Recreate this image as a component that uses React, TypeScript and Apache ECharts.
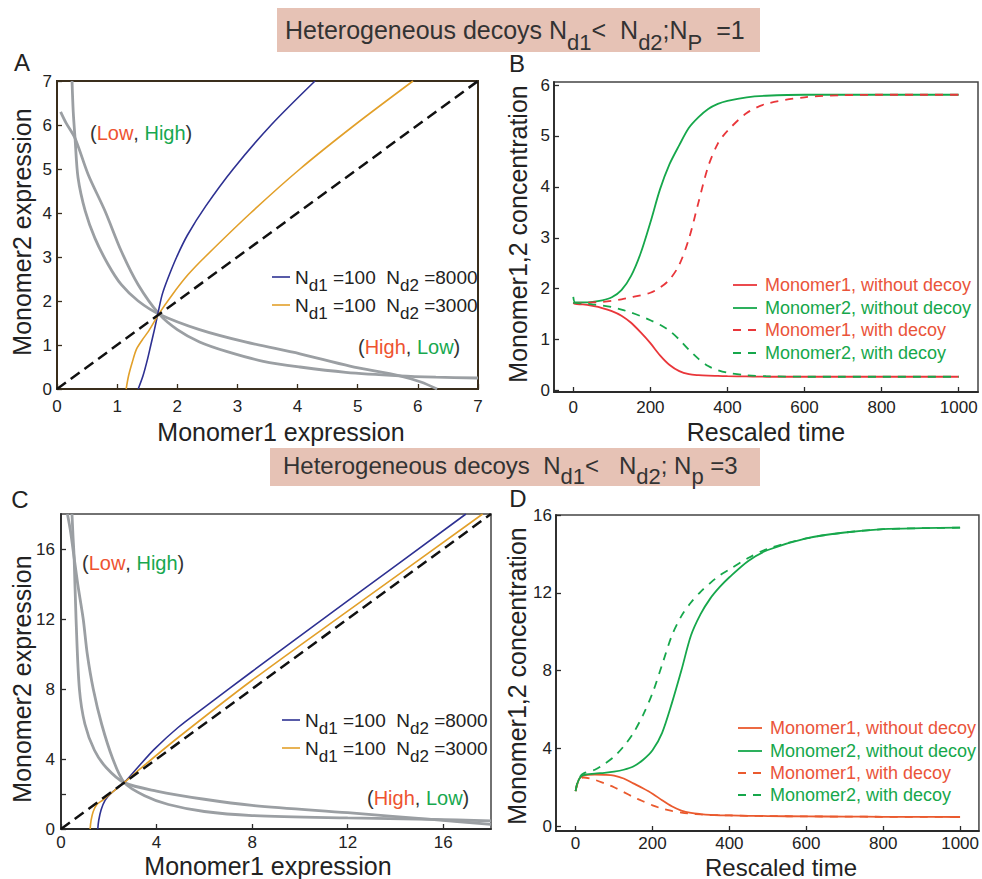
import React, { useEffect, useRef } from "react";
import * as echarts from "echarts";

const FONT = '"Liberation Sans", Arial, Helvetica, sans-serif';

// ---------- Panel A (N_P = 1) nullclines ----------
const aDiagonal = [[0, 0], [7, 7]];
const aBlue = [[1.35, 0], [1.43, 0.3], [1.5, 0.65], [1.56, 1.0], [1.62, 1.35], [1.68, 1.73], [1.75, 2.15], [1.84, 2.5], [1.99, 3.0], [2.17, 3.5], [2.47, 4.15], [2.93, 5.0], [3.56, 6.0], [4.29, 7.0]];
const aOrange = [[1.15, 0], [1.19, 0.3], [1.25, 0.6], [1.32, 0.9], [1.42, 1.12], [1.52, 1.31], [1.7, 1.72], [1.92, 2.15], [2.18, 2.6], [2.46, 3.0], [3.22, 4.0], [4.04, 5.0], [4.95, 6.0], [5.92, 7.0]];
const aNull1 = [[0.25, 7.0], [0.27, 6.3], [0.3, 5.7], [0.35, 4.8], [0.47, 4.04], [0.63, 3.43], [0.85, 2.83], [1.07, 2.37], [1.35, 2.0], [1.7, 1.7], [2.37, 1.35], [3.13, 1.07], [4.04, 0.8], [4.87, 0.52], [5.7, 0.3], [6.05, 0.16], [6.32, 0.0]];
const aNull2 = [[0.06, 6.3], [0.15, 6.05], [0.3, 5.7], [0.52, 4.87], [0.8, 4.04], [1.07, 3.13], [1.35, 2.37], [1.7, 1.7], [2.0, 1.35], [2.37, 1.07], [2.83, 0.85], [3.43, 0.63], [4.04, 0.5], [4.8, 0.38], [5.7, 0.3], [6.3, 0.27], [7.0, 0.25]];
const aTicks = [0, 1, 2, 3, 4, 5, 6, 7];

// ---------- Panel C (N_P = 3) nullclines ----------
const cDiagonal = [[0, 0], [18, 18]];
const cBlue = [[1.54, 0], [1.58, 0.5], [1.68, 1.1], [1.85, 1.65], [2.1, 2.05], [2.65, 2.66], [3.2, 3.5], [3.9, 4.55], [4.9, 5.8], [6, 6.95], [8, 9.0], [12, 13.03], [16.95, 18]];
const cOrange = [[1.22, 0], [1.26, 0.5], [1.35, 1.0], [1.5, 1.4], [1.75, 1.65], [2.15, 2.1], [2.65, 2.66], [3.35, 3.48], [4.88, 5.2], [8, 8.5], [12, 12.45], [17.65, 18]];
const cNull1 = [[0.46, 18], [0.5, 16.8], [0.55, 15.5], [0.63, 12], [0.77, 8], [1.0, 6], [1.4, 4.5], [1.9, 3.5], [2.65, 2.65], [4.0, 2.17], [6, 1.7], [8, 1.35], [12, 0.93], [15.5, 0.55], [18, 0.27]];
const cNull2 = [[0.27, 18], [0.4, 17], [0.55, 15.5], [0.7, 14], [0.93, 12], [1.1, 10], [1.35, 8], [1.7, 6], [2.17, 4.0], [2.65, 2.65], [3.5, 1.9], [4.5, 1.4], [6, 1.0], [8, 0.77], [12, 0.63], [15.5, 0.55], [18, 0.46]];
const cTickMarksY = [0, 2, 4, 8, 12, 16];
const cTicks = [0, 4, 8, 12, 16];

// ---------- Panel B time courses ----------
const timeB = [0, 5, 25, 50, 75, 100, 125, 150, 175, 200, 225, 250, 275, 300, 325, 350, 375, 400, 450, 500, 600, 700, 800, 900, 1000];
const bM1Without = [1.72, 1.7, 1.69, 1.66, 1.62, 1.56, 1.47, 1.33, 1.14, 0.93, 0.69, 0.5, 0.38, 0.32, 0.3, 0.29, 0.285, 0.28, 0.275, 0.27, 0.27, 0.27, 0.27, 0.27, 0.27];
const bM2Without = [1.84, 1.73, 1.73, 1.74, 1.77, 1.83, 1.97, 2.25, 2.7, 3.3, 3.95, 4.45, 4.82, 5.16, 5.37, 5.53, 5.63, 5.69, 5.76, 5.79, 5.81, 5.81, 5.81, 5.81, 5.81];
const bM1With = [1.72, 1.72, 1.72, 1.73, 1.74, 1.76, 1.79, 1.83, 1.87, 1.92, 2.02, 2.18, 2.47, 2.98, 3.7, 4.4, 4.85, 5.1, 5.45, 5.63, 5.76, 5.8, 5.81, 5.81, 5.81];
const bM2With = [1.72, 1.72, 1.71, 1.69, 1.67, 1.64, 1.59, 1.53, 1.46, 1.38, 1.29, 1.17, 1.0, 0.8, 0.62, 0.48, 0.4, 0.35, 0.3, 0.28, 0.27, 0.27, 0.27, 0.27, 0.27];
const bTicksY = [0, 1, 2, 3, 4, 5, 6];

// ---------- Panel D time courses ----------
const timeD = [0, 4, 10, 20, 50, 75, 100, 125, 150, 175, 200, 225, 250, 275, 300, 325, 350, 375, 400, 450, 500, 600, 700, 800, 900, 1000];
const dM1Without = [1.8, 2.15, 2.45, 2.6, 2.65, 2.64, 2.6, 2.45, 2.2, 1.95, 1.67, 1.33, 1.02, 0.8, 0.68, 0.62, 0.58, 0.56, 0.55, 0.53, 0.52, 0.5, 0.49, 0.48, 0.475, 0.47];
const dM2Without = [1.8, 2.15, 2.45, 2.62, 2.7, 2.74, 2.8, 2.9, 3.07, 3.4, 3.9, 4.8, 6.3, 8.0, 9.8, 10.9, 11.7, 12.3, 12.8, 13.65, 14.2, 14.8, 15.1, 15.27, 15.32, 15.35];
const dM1With = [1.8, 2.15, 2.4, 2.5, 2.38, 2.2, 2.0, 1.75, 1.5, 1.28, 1.07, 0.9, 0.78, 0.7, 0.64, 0.6, 0.57, 0.56, 0.55, 0.53, 0.52, 0.5, 0.49, 0.48, 0.475, 0.47];
const dM2With = [1.8, 2.2, 2.5, 2.7, 2.9, 3.2, 3.57, 4.1, 4.78, 5.7, 6.84, 8.3, 9.78, 10.8, 11.5, 12.05, 12.5, 12.9, 13.2, 13.8, 14.26, 14.8, 15.1, 15.27, 15.32, 15.35];
const dTicksY = [0, 4, 8, 12, 16];
const timeTicks = [0, 200, 400, 600, 800, 1000];

const legendNames = ["Monomer1, without decoy", "Monomer2, without decoy", "Monomer1, with decoy", "Monomer2, with decoy"];

const zip = (t: number[], v: number[]) => t.map((x, i) => [x, v[i]]);

const GRAY = "#9b9fa3";
const BLUE = "#2e3192";
const ORANGE = "#e2a02a";
const GREEN = "#16a74b";
const RED_B = "#e9363a";
const RED_D = "#ea5a2e";
const RED_TXT = "#ea543a";
const AX = "#2a2a2a";

const plainNumber = (v: number) => String(v);

function xAxisDef(grid: number, min: number, max: number, ticks: number[], color: string, margin: number) {
  return {
    gridIndex: grid,
    type: "value",
    min,
    max,
    axisLine: { show: true, onZero: false, lineStyle: { color, width: 1.8 } },
    axisTick: { show: true, inside: true, length: 5, customValues: ticks, lineStyle: { color, width: 1.3 } },
    axisLabel: { show: true, customValues: ticks, margin, formatter: plainNumber, fontFamily: FONT, fontSize: 17, color: "#222" },
    splitLine: { show: false },
  };
}
function yAxisDef(grid: number, min: number, max: number, tickMarks: number[], labels: number[], color: string, margin: number) {
  return {
    gridIndex: grid,
    type: "value",
    min,
    max,
    axisLine: { show: true, onZero: false, lineStyle: { color, width: 1.8 } },
    axisTick: { show: true, inside: true, length: 5, customValues: tickMarks, lineStyle: { color, width: 1.3 } },
    axisLabel: { show: true, customValues: labels, margin, formatter: plainNumber, fontFamily: FONT, fontSize: 17, color: "#222" },
    splitLine: { show: false },
  };
}

function lineSeries(name: string, grid: number, data: number[][], color: string, width: number, dash?: number[], z = 2, smooth: number | boolean = 0.3) {
  return {
    name,
    type: "line",
    xAxisIndex: grid,
    yAxisIndex: grid,
    data,
    symbol: "none",
    showSymbol: false,
    smooth,
    clip: true,
    z,
    lineStyle: { color, width, type: dash ? dash : "solid", cap: "butt" },
    itemStyle: { color },
    emphasis: { disabled: true },
  };
}

const richSub = (main: number, sub: number, H: number, h: number, fill: string) => ({
  m: { fontFamily: FONT, fontSize: main, lineHeight: H, fill, verticalAlign: "middle" },
  s: { fontFamily: FONT, fontSize: sub, lineHeight: h, fill, verticalAlign: "bottom" },
});

function textEl(text: string, x: number, y: number, size: number, opts: any = {}) {
  return {
    type: "text",
    x,
    y,
    rotation: opts.rotation || 0,
    z: 100,
    style: {
      text,
      fontFamily: FONT,
      fontSize: size,
      fill: opts.fill || "#222",
      textAlign: opts.align || "center",
      textVerticalAlign: "middle",
      rich: opts.rich,
    },
  };
}

function lineEl(x1: number, y1: number, x2: number, y2: number, stroke: string, width: number, dash?: number[]) {
  return {
    type: "line",
    z: 100,
    shape: { x1, y1, x2, y2 },
    style: { stroke, lineWidth: width, lineDash: dash || null },
  };
}

const lowHighRich = {
  k: { fontFamily: FONT, fontSize: 20, fill: "#333" },
  r: { fontFamily: FONT, fontSize: 20, fill: "#ee5330" },
  g: { fontFamily: FONT, fontSize: 20, fill: "#17a84f" },
};

function buildGraphic() {
  const els: any[] = [];
  // banners
  els.push({ type: "rect", z: 90, shape: { x: 277, y: 8, width: 483, height: 44 }, style: { fill: "#e6c2b5" } });
  els.push(textEl("{m|Heterogeneous decoys N}{s|d1}{m|<  N}{s|d2}{m|;N}{s|P}{m|  =1}", 285, 30, 25, { align: "left", rich: richSub(25, 22, 46, 22, "#333") }));
  els.push({ type: "rect", z: 90, shape: { x: 270, y: 448, width: 490, height: 38 }, style: { fill: "#e6c2b5" } });
  els.push(textEl("{m|Heterogeneous decoys  N}{s|d1}{m|<   N}{s|d2}{m|; N}{s|p}{m| =3}", 283, 465, 24, { align: "left", rich: richSub(24, 22, 44, 22, "#333") }));

  // panel letters
  els.push(textEl("A", 22, 62, 24));
  els.push(textEl("B", 517, 63, 24));
  els.push(textEl("C", 20, 499, 24));
  els.push(textEl("D", 518, 498, 24));

  // axis titles
  els.push(textEl("Monomer1 expression", 281, 432, 25));
  els.push(textEl("Monomer2 expression", 22, 232, 25, { rotation: Math.PI / 2 }));
  els.push(textEl("Rescaled time", 766, 432, 25));
  els.push(textEl("Monomer1,2 concentration", 518, 234, 25, { rotation: Math.PI / 2 }));
  els.push(textEl("Monomer1 expression", 268, 866, 25));
  els.push(textEl("Monomer2 expression", 22, 679, 25, { rotation: Math.PI / 2 }));
  els.push(textEl("Rescaled time", 781, 867, 24));
  els.push(textEl("Monomer1,2 concentration", 517, 676, 25, { rotation: Math.PI / 2 }));

  // Low/High annotations
  els.push(textEl("{k|(}{r|Low}{k|, }{g|High}{k|)}", 90, 133, 20, { align: "left", rich: lowHighRich }));
  els.push(textEl("{k|(}{r|High}{k|, }{g|Low}{k|)}", 358, 347, 20, { align: "left", rich: lowHighRich }));
  els.push(textEl("{k|(}{r|Low}{k|, }{g|High}{k|)}", 82, 563, 20, { align: "left", rich: lowHighRich }));
  els.push(textEl("{k|(}{r|High}{k|, }{g|Low}{k|)}", 367, 798, 20, { align: "left", rich: lowHighRich }));

  // decoy legends (A, C)
  const nd = (v: string) => `{m|N}{s|d1}{m| =100  N}{s|d2}{m| =${v}}`;
  const ndRich = richSub(19, 17, 33, 17, "#222");
  [[277, BLUE, "8000"], [305, ORANGE, "3000"]].forEach(([y, c, v]: any) => {
    els.push(lineEl(272, y, 290, y, c, 1.6));
    els.push(textEl(nd(v), 295, y, 19, { align: "left", rich: ndRich }));
  });
  [[720, BLUE, "8000"], [748, ORANGE, "3000"]].forEach(([y, c, v]: any) => {
    els.push(lineEl(282, y, 300, y, c, 1.6));
    els.push(textEl(nd(v), 305, y, 19, { align: "left", rich: ndRich }));
  });

  // time-course legends (B, D)
  const legendColors = [RED_TXT, GREEN, RED_TXT, GREEN];
  const bRows = [285, 308, 330, 353];
  const dRows = [728, 751, 773, 795];
  legendNames.forEach((name, i) => {
    const dash = i >= 2 ? [8, 7] : undefined;
    els.push(lineEl(733, bRows[i], 757, bRows[i], i % 2 === 0 ? RED_B : GREEN, 1.8, dash));
    els.push(textEl(name, 765, bRows[i], 18, { align: "left", fill: legendColors[i] }));
    els.push(lineEl(738, dRows[i], 762, dRows[i], i % 2 === 0 ? RED_D : GREEN, 1.8, dash));
    els.push(textEl(name, 770, dRows[i], 18, { align: "left", fill: legendColors[i] }));
  });
  return els;
}

function buildOption() {
  return {
    animation: false,
    backgroundColor: "#ffffff",
    textStyle: { fontFamily: FONT },
    grid: [
      { left: 57, top: 81, width: 421, height: 308, show: true, borderColor: "#3a2e1c", borderWidth: 2, backgroundColor: "transparent" },
      { left: 554, top: 82, width: 424, height: 310, show: true, borderColor: "#444", borderWidth: 1.5, backgroundColor: "transparent" },
      { left: 61, top: 514, width: 430, height: 315, show: true, borderColor: "#444", borderWidth: 1.5, backgroundColor: "transparent" },
      { left: 556, top: 515, width: 428, height: 316, show: true, borderColor: "#444", borderWidth: 1.5, backgroundColor: "transparent" },
    ],
    xAxis: [
      xAxisDef(0, 0, 7, aTicks, "#3a2e1c", 9),
      xAxisDef(1, -50, 1050, timeTicks, AX, 7),
      xAxisDef(2, 0, 18, cTicks, AX, 5),
      xAxisDef(3, -51, 1049, timeTicks, AX, 4),
    ],
    yAxis: [
      yAxisDef(0, 0, 7, aTicks, aTicks, "#3a2e1c", 5),
      yAxisDef(1, -0.03, 6.06, bTicksY, bTicksY, AX, 4),
      yAxisDef(2, 0, 18, cTickMarksY, cTicks, AX, 6),
      yAxisDef(3, -0.25, 16, dTicksY, dTicksY, AX, 4),
    ],
    graphic: buildGraphic(),
    series: [
      // A
      lineSeries("A nullcline 1", 0, aNull1, GRAY, 2.8),
      lineSeries("A nullcline 2", 0, aNull2, GRAY, 2.8),
      lineSeries("A Nd2=8000", 0, aBlue, BLUE, 1.6, undefined, 3),
      lineSeries("A Nd2=3000", 0, aOrange, ORANGE, 1.6, undefined, 3),
      lineSeries("A diagonal", 0, aDiagonal, "#111", 2.5, [11, 6], 4, false),
      // B
      lineSeries(legendNames[0], 1, zip(timeB, bM1Without), RED_B, 1.8),
      lineSeries(legendNames[1], 1, zip(timeB, bM2Without), GREEN, 1.8),
      lineSeries(legendNames[2], 1, zip(timeB, bM1With), RED_B, 1.8, [8, 7]),
      lineSeries(legendNames[3], 1, zip(timeB, bM2With), GREEN, 1.8, [8, 7]),
      // C
      lineSeries("C nullcline 1", 2, cNull1, GRAY, 2.8),
      lineSeries("C nullcline 2", 2, cNull2, GRAY, 2.8),
      lineSeries("C Nd2=8000", 2, cBlue, BLUE, 1.6, undefined, 3),
      lineSeries("C Nd2=3000", 2, cOrange, ORANGE, 1.6, undefined, 3),
      lineSeries("C diagonal", 2, cDiagonal, "#111", 2.5, [11, 6], 4, false),
      // D
      lineSeries(legendNames[0] + " (D)", 3, zip(timeD, dM1Without), RED_D, 1.8),
      lineSeries(legendNames[1] + " (D)", 3, zip(timeD, dM2Without), GREEN, 1.8),
      lineSeries(legendNames[2] + " (D)", 3, zip(timeD, dM1With), RED_D, 1.8, [8, 7]),
      lineSeries(legendNames[3] + " (D)", 3, zip(timeD, dM2With), GREEN, 1.8, [8, 7]),
    ],
  };
}

export default function App() {
  const ref = useRef<HTMLDivElement>(null);
  useEffect(() => {
    if (!ref.current) return;
    const chart = echarts.init(ref.current, undefined, { renderer: "svg" });
    chart.setOption(buildOption() as any);
    return () => chart.dispose();
  }, []);
  return <div ref={ref} style={{ position: "absolute", left: 0, top: 0, width: 982, height: 879 }} />;
}
